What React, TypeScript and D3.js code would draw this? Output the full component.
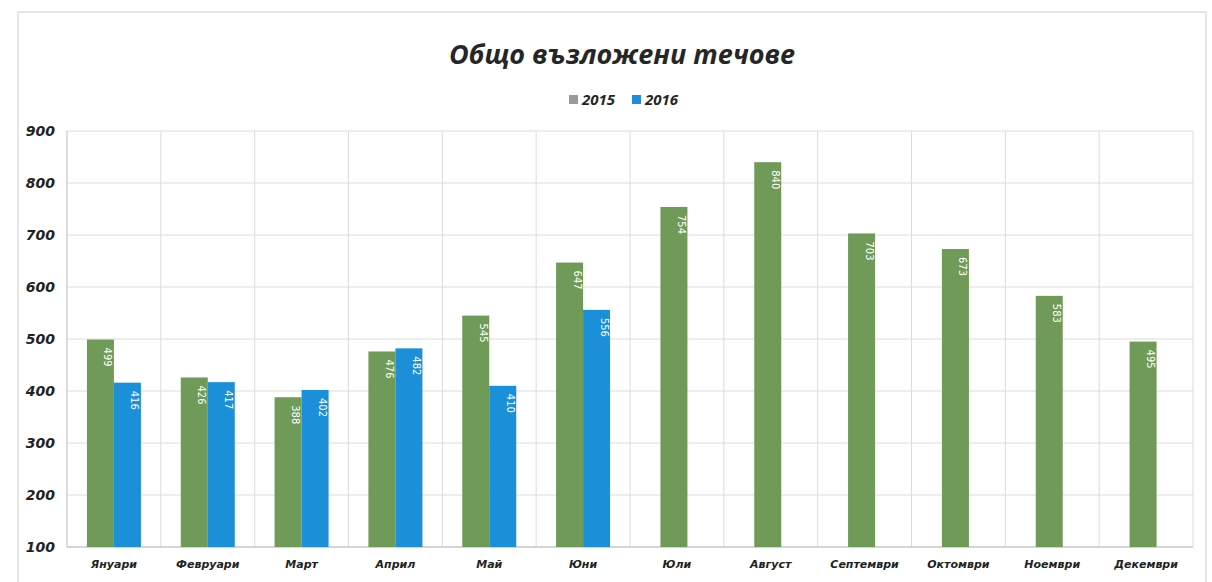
import React from "react";
import * as d3 from "d3";

const months = ["Януари", "Февруари", "Март", "Април", "Май", "Юни", "Юли", "Август", "Септември", "Октомври", "Ноември", "Декември"];
const values2015 = [499, 426, 388, 476, 545, 647, 754, 840, 703, 673, 583, 495];
const values2016: (number | null)[] = [416, 417, 402, 482, 410, 556, null, null, null, null, null, null];
const yTicks = [100, 200, 300, 400, 500, 600, 700, 800, 900];
const seriesNames = ["2015", "2016"];
const title = "Общо възложени течове";

const W = 1212, H = 582;
const left = 67, right = 1193, top = 131, bottom = 547;
const GREEN = "#6f9a57";
const BLUE = "#1b8fd8";

export default function App() {
  const x = d3.scaleBand<string>().domain(months).range([left, right]).paddingInner(0).paddingOuter(0);
  const y = d3.scaleLinear().domain([100, 900]).range([bottom, top]);
  const bw = x.bandwidth();
  const barW = 27;
  const x1 = d3.scaleBand<string>().domain(seriesNames).range([-barW, barW]).padding(0);

  const bars: { key: string; x: number; v: number; color: string }[] = [];
  months.forEach((m, i) => {
    const cx = (x(m) as number) + bw / 2;
    const v15 = values2015[i];
    const v16 = values2016[i];
    if (v16 == null) {
      bars.push({ key: m + "a", x: cx - barW / 2 - 3, v: v15, color: GREEN });
    } else {
      bars.push({ key: m + "a", x: cx + (x1("2015") as number), v: v15, color: GREEN });
      bars.push({ key: m + "b", x: cx + (x1("2016") as number), v: v16, color: BLUE });
    }
  });

  const font = "'DejaVu Sans', Verdana, sans-serif";

  return (
    <svg width={W} height={H} style={{ position: "absolute", left: 0, top: 0, background: "#fff" }}>
      <rect x={18} y={12} width={1188} height={600} fill="#fff" stroke="#d0d0d0" strokeWidth={1} />
      {/* horizontal gridlines */}
      {yTicks.map((t) => (
        <line key={"h" + t} x1={left} x2={right} y1={y(t)} y2={y(t)} stroke="#dcdcdc" strokeWidth={1} />
      ))}
      {/* vertical gridlines */}
      {months.map((m) => (
        <line key={"v" + m} x1={(x(m) as number) + bw} x2={(x(m) as number) + bw} y1={top} y2={bottom} stroke="#dcdcdc" strokeWidth={1} />
      ))}
      <line x1={left} x2={left} y1={top} y2={bottom} stroke="#bdbdbd" />
      <line x1={left} x2={right} y1={bottom} y2={bottom} stroke="#bdbdbd" />
      {/* bars */}
      {bars.map((b) => (
        <g key={b.key}>
          <rect x={b.x} y={y(b.v)} width={barW} height={bottom - y(b.v)} fill={b.color} />
          <text
            transform={`translate(${b.x + barW / 2 + 4},${y(b.v) + 8}) rotate(90)`}
            fontFamily={font}
            fontSize={10}
            fill="#fff"
            textAnchor="start"
          >
            {b.v}
          </text>
        </g>
      ))}
      {/* y labels */}
      {yTicks.map((t) => (
        <text key={"yl" + t} x={55} y={y(t) + 5} textAnchor="end" fontFamily={font} fontSize={14} fontWeight="bold" fontStyle="italic" fill="#222">
          {t}
        </text>
      ))}
      {/* x labels */}
      {months.map((m) => (
        <text key={"xl" + m} x={(x(m) as number) + bw / 2} y={568} textAnchor="middle" fontFamily={font} fontSize={11} fontWeight="bold" fontStyle="italic" fill="#222">
          {m}
        </text>
      ))}
      {/* title */}
      <text x={622} y={64} textAnchor="middle" fontFamily="'Open Sans', sans-serif" fontSize={27} fontWeight="bold" fontStyle="italic" fill="#262626">
        {title}
      </text>
      {/* legend */}
      <rect x={569} y={95} width={9} height={9} fill="#9a9a9a" />
      <text x={582} y={105} fontFamily="'Open Sans', sans-serif" fontSize={15} fontWeight="bold" fontStyle="italic" fill="#262626">{seriesNames[0]}</text>
      <rect x={632} y={95} width={9} height={9} fill={BLUE} />
      <text x={645} y={105} fontFamily="'Open Sans', sans-serif" fontSize={15} fontWeight="bold" fontStyle="italic" fill="#262626">{seriesNames[1]}</text>
    </svg>
  );
}
